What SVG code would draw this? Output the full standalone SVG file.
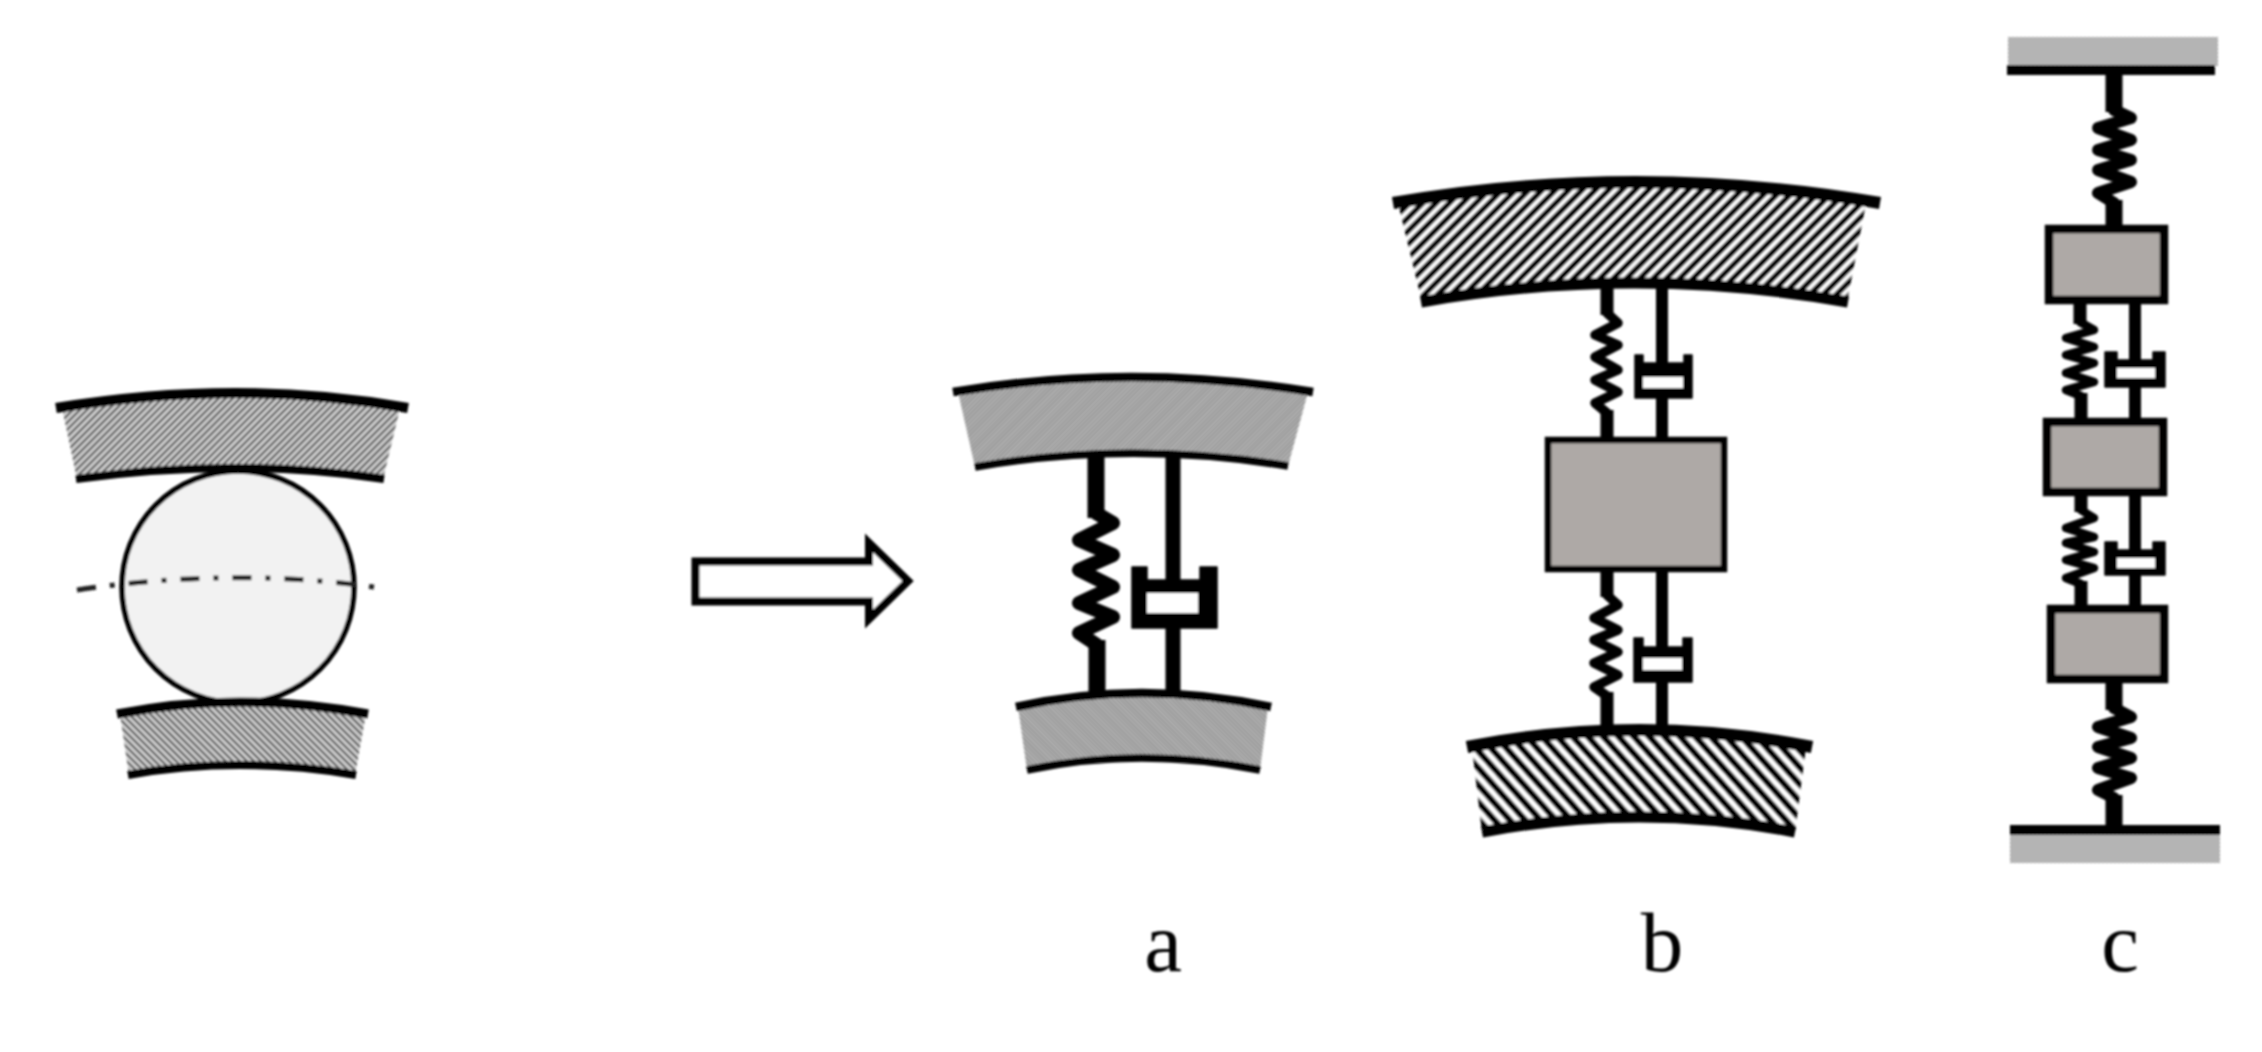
<svg xmlns="http://www.w3.org/2000/svg" width="2262" height="1052" viewBox="0 0 2262 1052">
<style>
.arc{fill:none;stroke:#000;stroke-linecap:butt}
.rod{stroke:#000;fill:none}
.spring{fill:none;stroke:#000;stroke-linejoin:round;stroke-linecap:round}
.mass{fill:#aea9a6;stroke:#000}
.cup{fill:#000;stroke:#000;stroke-width:1.5;stroke-linejoin:round}
.hole{fill:#fff}
.lbl{font-family:"Liberation Serif","Times New Roman",serif;font-size:85px;fill:#000;text-anchor:middle}
</style>
<defs>
<filter id="soft" filterUnits="userSpaceOnUse" x="0" y="0" width="2262" height="1052"><feGaussianBlur stdDeviation="1.2"/></filter>
<pattern id="h1" patternUnits="userSpaceOnUse" width="5" height="5" patternTransform="rotate(45)"><rect width="5" height="5" fill="#e0e0e0"/><rect width="2.6" height="5" fill="#5e5e5e"/></pattern>
<pattern id="h2" patternUnits="userSpaceOnUse" width="5" height="5" patternTransform="rotate(-45)"><rect width="5" height="5" fill="#e0e0e0"/><rect width="2.6" height="5" fill="#5e5e5e"/></pattern>
<pattern id="h3" patternUnits="userSpaceOnUse" width="3" height="3" patternTransform="rotate(45)"><rect width="3" height="3" fill="#d0d0d0"/><rect width="1.5" height="3" fill="#757575"/></pattern>
<pattern id="h4" patternUnits="userSpaceOnUse" width="3" height="3" patternTransform="rotate(-45)"><rect width="3" height="3" fill="#d0d0d0"/><rect width="1.5" height="3" fill="#757575"/></pattern>
<pattern id="h5" patternUnits="userSpaceOnUse" width="9.4" height="9.4" patternTransform="rotate(45)"><rect width="9.4" height="9.4" fill="#fff"/><rect width="5.6" height="9.4" fill="#000"/></pattern>
<pattern id="h6" patternUnits="userSpaceOnUse" width="11.4" height="11.4" patternTransform="rotate(-42)"><rect width="11.4" height="11.4" fill="#fff"/><rect width="6.4" height="11.4" fill="#000"/></pattern>
<pattern id="dot" patternUnits="userSpaceOnUse" width="4" height="4"><rect width="4" height="4" fill="#c6c6c6"/><rect width="2" height="2" fill="#a0a0a0"/><rect x="2" y="2" width="2" height="2" fill="#a0a0a0"/></pattern>
</defs>
<rect id="background" width="2262" height="1052" fill="#fff"/>
<g filter="url(#soft)">
<g id="connectors">
<!-- a -->
<path class="rod" stroke-width="17" d="M1096,453V518M1097,640V697"/>
<path class="spring" stroke-width="14" d="M1096,513L1113,523L1079,540L1113,555L1079,570L1113,587L1079,603L1113,617L1079,633L1097,645"/>
<path class="rod" stroke-width="15" d="M1173,453V582M1173,626V697"/>
<!-- b -->
<path class="rod" stroke-width="13" d="M1607,283V315M1607,410V441M1607,570V597M1607,692V732"/>
<path class="spring" stroke-width="9.5" d="M1607,313L1618,323L1595,335L1618,345L1595,357L1618,370L1595,380L1618,392L1595,403L1607,413"/>
<path class="spring" stroke-width="9.5" d="M1607,595L1618,605L1594,618L1618,630L1594,640L1618,652L1594,663L1618,675L1594,687L1607,696"/>
<path class="rod" stroke-width="12" d="M1662,283V365M1662,396V441M1662,570V649M1662,680V732"/>
<!-- c -->
<path class="rod" stroke-width="17" d="M2114,72V112M2114,200V228M2114,680V710M2114,795V828"/>
<path class="spring" stroke-width="12" d="M2114,110L2131,118L2098,128L2131,140L2098,150L2131,160L2098,170L2131,182L2098,193L2114,203"/>
<path class="spring" stroke-width="12" d="M2114,708L2131,717L2098,727L2131,738L2098,747L2131,758L2098,768L2131,778L2098,790L2114,798"/>
<path class="rod" stroke-width="13" d="M2080,300V324M2081,393V421M2081,493V512M2081,581V607"/>
<path class="spring" stroke-width="8.5" d="M2080,322L2094,330L2066,338L2094,347L2066,355L2094,363L2066,373L2094,382L2066,390L2081,396"/>
<path class="spring" stroke-width="8.5" d="M2081,510L2094,518L2066,528L2094,537L2066,543L2094,552L2066,560L2094,568L2066,578L2081,584"/>
<path class="rod" stroke-width="12" d="M2135,300V362M2135,385V421M2135,493V552M2135,573V607"/>
</g>

<g id="arrow"><path d="M695.5,561.5H869V543L908,581L869,619V601.5H695.5Z" fill="#fff" stroke="#000" stroke-width="8" stroke-miterlimit="6"/></g>

<g id="bearing-outer">
<path d="M62,408Q238,378 400,408L383,479Q238,457 77,479Z" fill="url(#h1)"/>
<path class="arc" stroke-width="10" d="M56,408Q238,378 408,408"/>
<path class="arc" stroke-width="8" d="M76,479Q238,457 384,479"/>
</g>
<g id="bearing-ball">
<circle cx="238" cy="587" r="116" fill="#f2f2f2" stroke="#000" stroke-width="5.5"/>
<path d="M77,590Q238,566 387,589" fill="none" stroke="#222" stroke-width="5" stroke-dasharray="19 14 5 14"/>
</g>
<g id="bearing-inner">
<path d="M120,714Q238,690 366,714L355,775Q238,755 129,775Z" fill="url(#h2)"/>
<path class="arc" stroke-width="9" d="M117,714Q238,690 368,714"/>
<path class="arc" stroke-width="8" d="M128,775Q238,755 356,775"/>
</g>

<g id="a-outer">
<path d="M958,392Q1130,362 1308,392L1288,466Q1130,440 975,467Z" fill="url(#h3)"/>
<path class="arc" stroke-width="8.5" d="M953,392Q1130,362 1313,392"/>
<path class="arc" stroke-width="7.5" d="M975,467Q1130,440 1288,466"/>
</g>
<g id="a-damper"><path class="cup" d="M1132,567H1147V580H1200V567H1217V628H1132Z"/><rect class="hole" x="1147" y="593" width="51" height="20"/></g>
<g id="a-inner">
<path d="M1018,707Q1140,679 1268,707L1260,770Q1140,746 1027,770Z" fill="url(#h4)"/>
<path class="arc" stroke-width="8.5" d="M1016,707Q1140,679 1271,707"/>
<path class="arc" stroke-width="7.5" d="M1027,770Q1140,746 1260,770"/>
</g>

<g id="b-outer">
<path d="M1398,203Q1635,161 1866,203L1847,302Q1635,264 1422,302Z" fill="url(#h5)"/>
<path class="arc" stroke-width="12" d="M1393,203Q1635,161 1880,203"/>
<path class="arc" stroke-width="11" d="M1421,302Q1635,264 1848,302"/>
</g>
<g id="b-damper-1"><path class="cup" d="M1635,355H1643V363H1684V355H1692V398H1635Z"/><rect class="hole" x="1643" y="377" width="40" height="11"/></g>
<g id="b-mass"><rect class="mass" x="1548" y="440" width="176" height="129" stroke-width="6.5"/></g>
<g id="b-damper-2"><path class="cup" d="M1634,638H1643V647H1683V638H1692V682H1634Z"/><rect class="hole" x="1643" y="658" width="39" height="12"/></g>
<g id="b-inner">
<path d="M1472,747Q1640,713 1806,747L1795,832Q1640,802 1482,832Z" fill="url(#h6)"/>
<path class="arc" stroke-width="12" d="M1467,747Q1640,713 1812,747"/>
<path class="arc" stroke-width="11" d="M1482,832Q1640,802 1795,832"/>
</g>

<g id="c-top">
<rect x="2008" y="37" width="210" height="29" fill="url(#dot)"/>
<rect x="2007" y="65" width="208" height="10"/>
</g>
<g id="c-mass-1"><rect class="mass" x="2049" y="229" width="115" height="71" stroke-width="8.5"/></g>
<g id="c-damper-1"><path class="cup" d="M2105,352H2117V360H2153V352H2165V387H2105Z"/><rect class="hole" x="2117" y="368" width="38" height="10"/></g>
<g id="c-mass-2"><rect class="mass" x="2047" y="422" width="116" height="70" stroke-width="8.5"/></g>
<g id="c-damper-2"><path class="cup" d="M2105,542H2117V550H2153V542H2165V575H2105Z"/><rect class="hole" x="2117" y="558" width="38" height="10"/></g>
<g id="c-mass-3"><rect class="mass" x="2051" y="609" width="113" height="70" stroke-width="8.5"/></g>
<g id="c-bottom">
<rect x="2010" y="825" width="210" height="10"/>
<rect x="2010" y="835" width="210" height="28" fill="url(#dot)"/>
</g>

<g id="labels">
<text class="lbl" x="1163" y="971">a</text>
<text class="lbl" x="1662" y="971">b</text>
<text class="lbl" x="2120" y="971">c</text>
</g>
</g>
</svg>
